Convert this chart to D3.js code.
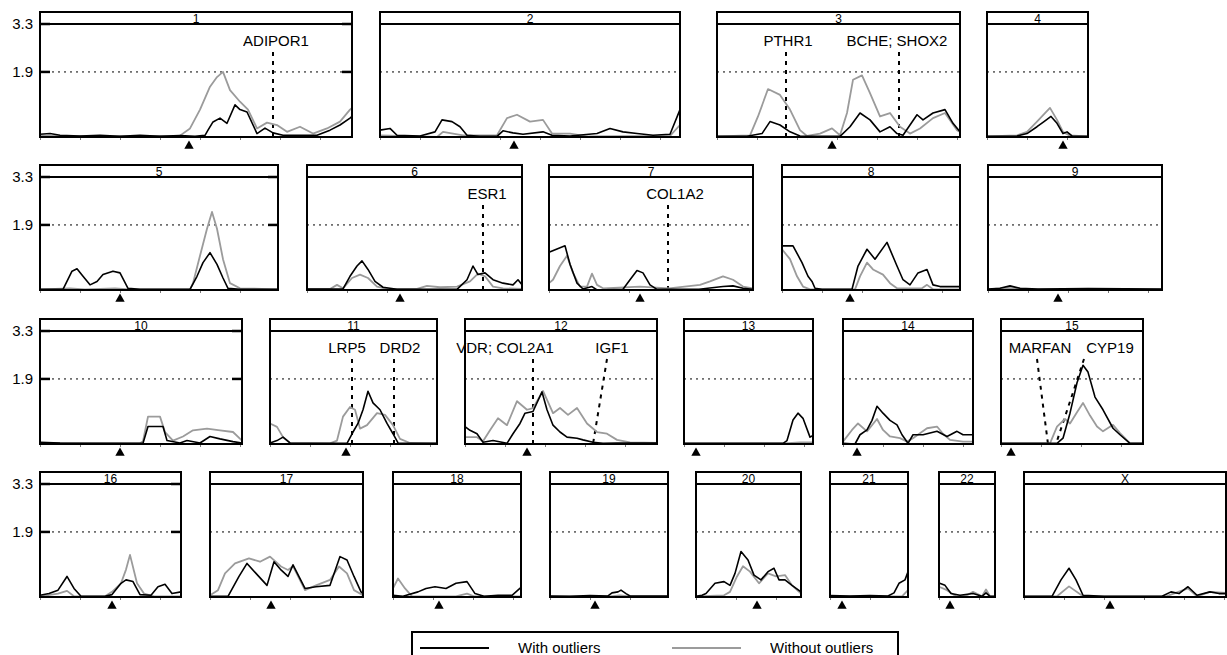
<!DOCTYPE html>
<html>
<head>
<meta charset="utf-8">
<script src="https://cdn.jsdelivr.net/npm/d3@7"></script>
<style>
  body { margin: 0; background: #fff; }
  svg { display: block; font-family: "Liberation Sans", Arial, sans-serif; }
  text { fill: #000; opacity: 0.999; }
</style>
</head>
<body>
<svg id="chart" width="1227" height="655"></svg>
<script>
// chromosomes, in reading order
const chroms = ["1","2","3","4","5","6","7","8","9","10","11","12","13","14","15","16","17","18","19","20","21","22","X"];
const rowOf = [0,0,0,0, 1,1,1,1,1, 2,2,2,2,2,2, 3,3,3,3,3,3,3,3];
// map length of each chromosome (map units)
const chromLen = [312,300,243,101, 238,215,204,178,174, 202,167,192,129,130,142, 141,153,128,118,105,78,56,202];
// left edge of each panel
const panelLeft = [40,380,717,987, 40,307,549,782,988, 40,270,465,684,843,1001, 40,210,393,550,696,830,939,1024];
// centromere position (map units from pter)
const centromere = [149,134,115,76, 80,93,91,68,70, 80,76,62,12,14,10, 72,61,46,45,61,12,11,86];

const yTicks = [1.9, 3.3];
const threshold = 1.9;
const yMax = 3.3;

// LOD profile [position, LOD] — with outliers (black)
const withOutliers = [
  [[0,.08],[10,.1],[20,.05],[40,.03],[60,.05],[80,.02],[100,.05],[120,.02],[140,.04],[155,.02],[165,.05],[168,.2],[173,.44],[180,.55],[187,.4],[195,.94],[200,.8],[207,.73],[217,.1],[225,.26],[233,.12],[243,.05],[260,.05],[277,.05],[290,.2],[300,.35],[310,.55],[312,.6]],
  [[0,.2],[10,.25],[17,.05],[40,.03],[55,.15],[62,.5],[72,.45],[80,.3],[87,.05],[100,.02],[117,.02],[123,.18],[133,.12],[143,.08],[163,.15],[172,.05],[190,.03],[217,.1],[230,.25],[243,.15],[257,.1],[273,.05],[290,.08],[300,.8]],
  [[0,.02],[30,.02],[45,.1],[53,.45],[63,.35],[73,.15],[83,.03],[123,.02],[133,.3],[143,.7],[153,.5],[163,.15],[173,.3],[180,.1],[186,.05],[200,.65],[206,.5],[216,.7],[228,.8],[236,.4],[243,.15]],
  [[0,.02],[30,.03],[40,.1],[50,.3],[57,.45],[64,.6],[70,.4],[76,.1],[80,.15],[85,.03],[101,.02]],
  [[0,.02],[23,.02],[32,.55],[37,.62],[43,.4],[50,.15],[57,.25],[63,.45],[73,.55],[80,.5],[88,.05],[100,.02],[150,.02],[157,.4],[163,.8],[170,1.09],[177,.75],[183,.35],[188,.05],[200,.02],[238,.02]],
  [[0,.03],[36,.03],[43,.4],[50,.7],[55,.85],[61,.6],[68,.25],[76,.08],[90,.02],[150,.02],[160,.3],[166,.7],[171,.45],[178,.5],[186,.3],[196,.2],[206,.15],[211,.3],[215,.15]],
  [[0,1.1],[8,1.2],[16,1.29],[21,.75],[28,.2],[34,.03],[43,.1],[48,0],[74,.02],[81,.3],[88,.57],[94,.5],[101,.15],[108,.02],[150,.02],[174,.1],[184,.12],[194,.05],[204,.02]],
  [[0,1.29],[11,1.29],[20,.8],[26,.4],[30,.25],[33,.05],[40,.02],[70,.02],[76,.7],[85,1.19],[93,.9],[105,1.39],[115,.7],[121,.3],[128,.15],[136,.5],[145,.6],[151,.15],[158,.1],[178,.1]],
  [[0,.03],[12,.05],[22,.12],[32,.05],[50,.03],[100,.04],[174,.03]],
  [[0,.05],[20,.03],[100,.02],[103,.02],[108,.51],[117,.51],[123,.51],[127,.1],[140,.03],[147,.1],[160,.03],[170,.22],[180,.15],[193,.07],[202,.03]],
  [[0,.03],[7,.1],[13,.2],[20,.03],[77,.02],[83,.35],[88,.6],[93,1.0],[98,1.54],[103,1.2],[110,1.0],[117,.6],[123,.3],[128,.03],[167,.02]],
  [[0,.51],[5,.4],[12,.3],[18,.05],[28,.1],[42,.02],[48,.3],[55,.6],[60,.9],[68,.95],[77,1.52],[82,1.0],[88,.55],[95,.35],[102,.2],[112,.17],[118,.12],[128,.05],[138,.02],[152,.03],[192,.03]],
  [[0,.02],[99,.02],[103,.1],[109,.7],[114,.9],[119,.75],[126,.2],[129,.25]],
  [[0,.02],[12,0],[17,.27],[24,.41],[29,.69],[34,1.1],[40,.9],[47,.69],[54,.56],[59,.27],[65,.02],[70,.27],[80,.27],[94,.37],[104,.22],[114,.37],[120,.27],[130,.27]],
  [[0,.02],[56,.02],[62,.17],[69,.9],[76,1.79],[82,2.3],[87,2.1],[94,1.37],[102,1.0],[112,.46],[119,.27],[129,.02],[142,.02]],
  [[0,.05],[9,.1],[18,.2],[27,.6],[34,.25],[41,.02],[65,.02],[72,.07],[81,.4],[86,.5],[93,.45],[100,.07],[111,.05],[118,.3],[125,.37],[132,.1],[141,.15]],
  [[0,.02],[18,.02],[29,.6],[37,.98],[46,.69],[57,.34],[64,1.03],[71,.79],[78,.6],[83,.94],[95,.25],[106,.3],[120,.34],[130,1.18],[137,1.08],[144,.6],[151,.15],[153,.1]],
  [[0,.05],[10,.02],[25,.15],[33,.25],[42,.3],[53,.25],[63,.4],[74,.45],[82,.1],[91,.02],[105,.05],[119,.05],[128,.28]],
  [[0,.03],[20,.02],[40,.04],[58,.03],[62,.12],[68,.15],[71,.2],[76,.1],[80,.03],[100,.03],[118,.03]],
  [[0,.02],[6,.05],[10,.1],[19,.4],[28,.45],[34,.34],[39,.69],[45,1.33],[52,1.08],[58,.64],[65,.5],[72,.74],[78,.84],[83,.5],[89,.5],[96,.34],[105,.15]],
  [[0,.04],[20,.03],[40,.04],[58,.03],[64,.12],[69,.4],[75,.5],[78,.74]],
  [[0,.41],[6,.34],[12,.1],[21,.05],[34,.1],[43,.02],[47,.12],[51,.02],[56,.02]],
  [[0,.02],[28,.02],[37,.5],[45,.84],[52,.5],[59,.05],[80,.02],[138,.02],[147,.15],[155,.1],[164,.3],[173,.05],[186,.15],[195,.1],[202,.1]]
];

// LOD profile [position, LOD] — without outliers (grey)
const withoutOutliers = [
  [[0,.03],[60,.02],[110,.03],[140,.04],[150,.25],[160,.8],[170,1.47],[177,1.75],[183,1.9],[190,1.37],[200,1.03],[208,.8],[217,.25],[227,.42],[237,.35],[247,.15],[260,.3],[273,.1],[287,.25],[300,.45],[310,.8],[312,.85]],
  [[0,.05],[57,0],[63,.15],[83,.05],[117,.05],[127,.55],[137,.65],[150,.45],[163,.5],[172,.1],[190,.1],[207,.02],[290,.03],[300,.35]],
  [[0,.02],[33,.05],[41,.6],[51,1.4],[63,1.23],[73,.8],[83,.2],[90,.03],[103,.1],[115,.25],[123,.05],[130,.7],[136,1.67],[145,1.8],[153,1.28],[163,.6],[173,.7],[183,.3],[193,.1],[203,.25],[216,.55],[228,.7],[240,.2],[243,.15]],
  [[0,.02],[30,.05],[40,.15],[50,.45],[58,.7],[63,.85],[70,.5],[76,.15],[82,.05],[101,.02]],
  [[0,.02],[30,.05],[45,.02],[75,.05],[90,.02],[150,.02],[153,.2],[160,1.0],[167,1.79],[172,2.28],[177,1.79],[183,.9],[190,.2],[200,.05],[238,.02]],
  [[0,.03],[23,.03],[30,.15],[36,.05],[45,.35],[53,.45],[61,.35],[70,.1],[80,.03],[110,.03],[120,.12],[133,.08],[150,.1],[163,.25],[171,.48],[178,.4],[186,.1],[196,.05],[215,.03]],
  [[0,.2],[4,.3],[11,.7],[18,1.0],[24,.5],[31,.1],[38,.1],[43,.48],[48,.15],[54,.05],[91,.1],[120,.05],[151,.15],[161,.25],[174,.4],[184,.3],[194,.1],[204,.05]],
  [[0,1.19],[8,.9],[15,.4],[21,.1],[28,.02],[73,.02],[78,.4],[85,.8],[91,.6],[101,.45],[108,.2],[115,.05],[140,.05],[145,.15],[151,.02],[178,.02]],
  [[0,.02],[20,.06],[40,.02],[174,.02]],
  [[0,.03],[100,.02],[103,.08],[108,.8],[120,.8],[125,.35],[133,.1],[143,.22],[153,.4],[167,.45],[180,.4],[193,.35],[202,.1]],
  [[0,.6],[7,.5],[13,.2],[20,.03],[60,.02],[67,.1],[73,.8],[80,1.08],[85,1.0],[90,.45],[97,.55],[107,.9],[115,.85],[123,.55],[130,.15],[140,.03],[167,.02]],
  [[0,.2],[12,.2],[18,.08],[25,.4],[33,.75],[42,.55],[52,1.25],[62,1.0],[68,1.05],[78,1.55],[88,.9],[95,1.05],[103,.85],[112,1.05],[122,.6],[132,.35],[142,.3],[152,.12],[165,.05],[192,.03]],
  [[0,.02],[100,.02],[116,.05],[129,.05]],
  [[0,.07],[9,.41],[15,.6],[24,.37],[34,.73],[40,.41],[47,.22],[57,.17],[64,.07],[70,.17],[84,.46],[94,.51],[100,.3],[107,.12],[120,.07],[130,.07]],
  [[0,.02],[49,.02],[56,.51],[64,.73],[69,.6],[76,.93],[82,1.2],[89,.83],[96,.51],[102,.37],[112,.56],[119,.32],[129,.02],[142,.02]],
  [[0,.02],[18,.1],[27,.18],[34,.02],[65,.02],[72,.15],[81,.4],[86,.8],[90,1.23],[97,.4],[104,.1],[114,.02],[141,.02]],
  [[0,.05],[8,.2],[15,.69],[25,.98],[39,1.13],[50,1.03],[60,1.18],[71,.89],[78,.79],[83,.9],[95,.2],[106,.34],[120,.5],[129,.89],[137,.69],[144,.2],[153,.05]],
  [[0,.25],[5,.54],[12,.25],[19,.02],[63,.02],[74,.1],[81,.02],[128,.02]],
  [[0,.02],[60,.02],[70,.05],[80,.02],[118,.02]],
  [[0,.02],[28,.05],[34,.15],[41,.6],[47,.9],[54,.74],[63,.4],[72,.69],[80,.6],[89,.64],[96,.34],[105,.1]],
  [[0,.02],[72,.02],[78,.2]],
  [[0,.3],[8,.2],[17,.02],[28,.05],[34,.15],[43,.02],[47,.22],[51,.02],[56,.02]],
  [[0,.02],[33,.02],[45,.31],[59,.02],[142,.02],[164,.25],[173,.02],[186,.15],[202,.12]]
];

// candidate genes: top and bottom position of the dashed marker, label shift
const genes = [
  { chrom: "1",  name: "ADIPOR1",     top: 233, bottom: 233, dx: 3 },
  { chrom: "3",  name: "PTHR1",       top: 69,  bottom: 69,  dx: 2 },
  { chrom: "3",  name: "BCHE; SHOX2", top: 182, bottom: 182, dx: -2 },
  { chrom: "6",  name: "ESR1",        top: 176, bottom: 176, dx: 4 },
  { chrom: "7",  name: "COL1A2",      top: 119, bottom: 119, dx: 7 },
  { chrom: "11", name: "LRP5",        top: 82,  bottom: 82,  dx: -5 },
  { chrom: "11", name: "DRD2",        top: 124, bottom: 124, dx: 6 },
  { chrom: "12", name: "VDR; COL2A1", top: 68,  bottom: 68,  dx: -28 },
  { chrom: "12", name: "IGF1",        top: 142, bottom: 128, dx: 5 },
  { chrom: "15", name: "MARFAN",      top: 36,  bottom: 47,  dx: 3 },
  { chrom: "15", name: "CYP19",       top: 83,  bottom: 55,  dx: 26 }
];

const legendItems = [
  { label: "With outliers", color: "#000" },
  { label: "Without outliers", color: "#9b9b9b" }
];

const rowTop = [12, 165, 319, 472];
const stripH = 12, plotH = 113;
const colBlack = "#000", colGrey = "#9b9b9b";

const svg = d3.select("#chart");

chroms.forEach((c, i) => {
  const row = rowOf[i];
  const top = rowTop[row];
  const x0 = panelLeft[i];
  const len = chromLen[i];
  const x = d3.scaleLinear().domain([0, len]).range([x0, x0 + len]);
  const y = d3.scaleLinear().domain([0, yMax]).range([top + stripH + plotH, top + stripH]);
  const firstInRow = i === 0 || rowOf[i - 1] !== row;

  const g = svg.append("g").attr("class", "panel");

  // small ticks on the map axis
  g.append("g")
    .attr("transform", `translate(0,${y(0)})`)
    .call(d3.axisBottom(x).tickValues(d3.range(0, len, 40)).tickSize(3).tickFormat(""))
    .call(s => s.select(".domain").remove())
    .selectAll("line").attr("stroke", "#555").attr("stroke-width", 0.8);

  // threshold line
  g.append("line")
    .attr("x1", x(0)).attr("x2", x(len))
    .attr("y1", y(threshold)).attr("y2", y(threshold))
    .attr("stroke", "#000").attr("stroke-width", 1)
    .attr("stroke-dasharray", "2,4");

  // candidate genes
  genes.filter(d => d.chrom === c).forEach(d => {
    g.append("line")
      .attr("x1", x(d.top)).attr("y1", y(yMax) + 28)
      .attr("x2", x(d.bottom)).attr("y2", y(0))
      .attr("stroke", "#000").attr("stroke-width", 2)
      .attr("stroke-dasharray", "4,5");
    g.append("text")
      .attr("x", x(d.top) + d.dx).attr("y", y(yMax) + 22)
      .attr("text-anchor", "middle")
      .style("font-size", "15px")
      .text(d.name);
  });

  const line = d3.line().x(d => x(d[0])).y(d => y(d[1]));

  g.append("path").datum(withoutOutliers[i])
    .attr("d", line).attr("fill", "none")
    .attr("stroke", colGrey).attr("stroke-width", 1.8).attr("stroke-linejoin", "round");
  g.append("path").datum(withOutliers[i])
    .attr("d", line).attr("fill", "none")
    .attr("stroke", colBlack).attr("stroke-width", 1.6).attr("stroke-linejoin", "round");

  // frame
  g.append("rect")
    .attr("x", x(0)).attr("y", y(yMax))
    .attr("width", x(len) - x(0)).attr("height", y(0) - y(yMax))
    .attr("fill", "none").attr("stroke", "#000").attr("stroke-width", 2);

  // strip
  g.append("rect")
    .attr("x", x(0)).attr("y", top)
    .attr("width", x(len) - x(0)).attr("height", stripH)
    .attr("fill", "#fff").attr("stroke", "#000").attr("stroke-width", 2);
  g.append("text")
    .attr("x", (x(0) + x(len)) / 2).attr("y", top + stripH - 1.5)
    .attr("text-anchor", "middle")
    .style("font-size", "12px")
    .text(c);

  // centromere
  g.append("path")
    .attr("d", d3.symbol(d3.symbolTriangle).size(38)())
    .attr("transform", `translate(${x(centromere[i])},${y(0) + 9})`)
    .attr("fill", "#000");

  // y axis on the first panel of each row
  if (firstInRow) {
    yTicks.forEach(t => {
      g.append("line").attr("x1", x(0)).attr("x2", x(0) + 10)
        .attr("y1", y(t)).attr("y2", y(t)).attr("stroke", "#000").attr("stroke-width", 2.5);
      g.append("line").attr("x1", x(len) - 10).attr("x2", x(len))
        .attr("y1", y(t)).attr("y2", y(t)).attr("stroke", "#000").attr("stroke-width", 2.5);
      g.append("text")
        .attr("x", x(0) - 7).attr("y", y(t) + 5)
        .attr("text-anchor", "end")
        .style("font-size", "15px")
        .text(d3.format(".1f")(t));
    });
  }
});

// legend
const legend = svg.append("g");
legend.append("rect")
  .attr("x", 412).attr("y", 632).attr("width", 486).attr("height", 40)
  .attr("fill", "#fff").attr("stroke", "#000").attr("stroke-width", 2);
const legendX = [420, 672];
legendItems.forEach((d, k) => {
  legend.append("line")
    .attr("x1", legendX[k]).attr("x2", legendX[k] + 69)
    .attr("y1", 648).attr("y2", 648)
    .attr("stroke", d.color).attr("stroke-width", 2);
  legend.append("text")
    .attr("x", legendX[k] + 98).attr("y", 653)
    .style("font-size", "15px")
    .text(d.label);
});
</script>
</body>
</html>
